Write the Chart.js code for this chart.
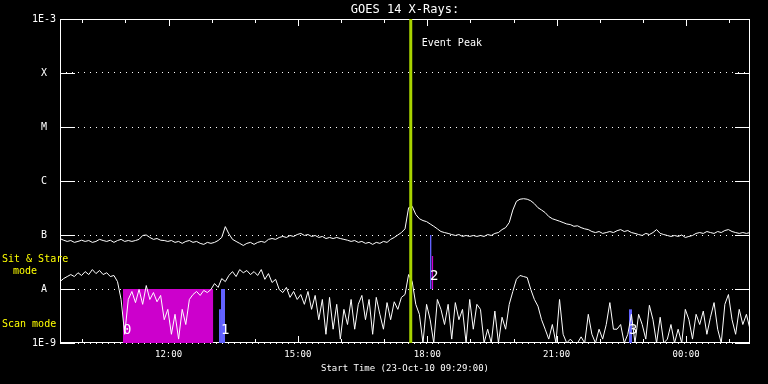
<!DOCTYPE html>
<html>
<head>
<meta charset="utf-8">
<title>GOES 14 X-Rays</title>
<script src="https://cdn.jsdelivr.net/npm/chart.js@4.4.1/dist/chart.umd.min.js"></script>
<style>
  html, body { margin: 0; padding: 0; background: #000; }
  #wrap { width: 768px; height: 384px; }
</style>
</head>
<body>
<div id="wrap"><canvas id="xrays" width="768" height="384"></canvas></div>
<script>
// GOES 14 flux, 23-Oct-10 09:29 -> 24-Oct-10 01:29, one sample every 5 minutes
const startHour = 9 + 29 / 60;
const sampleMinutes = 5;
const eventPeakHour = 17 + 37 / 60;

// long channel (1-8 A), nW/m^2
const longFlux = [
  86, 80, 76, 79, 73, 76, 80, 76, 79, 73, 76, 83, 79, 76, 80, 73, 79, 83, 76, 79,
  76, 79, 83, 98, 100, 90, 83, 86, 80, 79, 76,
  79, 73, 76, 70, 76, 79, 73, 76, 70, 67, 73, 70, 73, 79, 90, 143, 105, 83, 76, 70, 64, 70, 73, 67, 73, 76, 73,
  83, 86, 83, 90, 94, 90, 98, 94, 102, 107, 98, 102, 94, 98, 90, 94, 86, 90, 86, 90,
  86, 83, 80, 76, 79, 73, 76, 70, 73, 67, 73, 70, 76, 73, 83, 90, 100, 111, 130,
  320, 340, 240, 200, 185, 177, 160, 145, 130, 116, 111, 107, 102, 98, 102, 94, 98, 94, 98, 94, 98, 94, 102, 98, 107, 111,
  126, 137, 170, 290, 420, 460, 470, 460, 430, 380, 320, 290, 260, 220, 200, 190, 180, 170, 160, 156, 145, 148, 137, 130, 126, 116, 111,
  116, 107, 111, 116, 111, 120, 126, 116, 121, 111, 107, 102, 98, 107, 102, 111, 126, 107, 102, 98,
  94, 98, 94, 100, 90, 94, 98, 107, 111, 107, 116, 111, 107, 116, 111, 121, 126, 116, 111, 107, 111, 107, 111
];

// short channel (0.5-4 A), nW/m^2
const shortFlux = [
  13.7, 15.6, 17, 18.5, 17, 20, 17.8, 21, 18.5, 22.9, 19.3, 22, 18.5, 20, 17, 17.8, 13.7,
  6.4, 1.45, 6.4, 9, 5.6, 9.8, 5.2, 11.6, 6.4, 8.6, 5.8, 7.6, 2.7, 4.2, 1.45, 3.4, 1.18, 4.2, 2.2, 6.4, 7.9, 9, 7.6, 9.4, 8.6, 9.8,
  12.6, 10.7, 15.6, 13.7, 17.8, 21, 17, 22.9, 20, 22, 18.5, 21, 17.8, 22.9, 15.1, 19.3, 13.2, 15.1, 9.8, 8.6,
  10.7, 7, 9, 6.4, 7.9, 5.2, 9, 4.2, 7.6, 2.7, 6.4, 1.45, 7, 1.8, 5.2,
  1.18, 4.2, 2.2, 6.4, 1.8, 5.2, 7.6, 2.7, 6.4, 1.45, 7, 3.4, 1.8, 5.6, 2.7, 5.8, 4.2, 7, 7.9, 18.5,
  13.7, 5.2, 3.4, 1, 5.2, 2.7, 1, 6.4, 4.2, 2.2, 5.2, 1.18, 5.6, 2.7, 4.2, 1, 6.4, 1.8, 5.2,
  4.2, 1, 1.8, 1, 3.9, 1, 3, 1.8, 5.2, 9, 15.1, 17.8, 17, 16.3, 9.8, 6.4, 4.8, 2.7, 1.8, 1.18,
  2.2, 1, 6.4, 1.45, 1, 1.18, 1, 1, 1.3, 1, 3.4, 1.45, 1, 1.8, 1.18, 2.2, 5.6, 1.8,
  1.8, 2.2, 1, 1.45, 3.4, 1, 3.4, 2.2, 1.18, 5, 2.7, 1, 3, 1, 1.18, 2.2, 1, 1.8, 1, 4.2,
  2.7, 1.18, 3.4, 2.2, 3.9, 1.45, 3, 5.6, 1.8, 1, 5.2, 7.9, 2.7, 1.45, 4.2, 2.2, 3.4, 1.8
];

const decadeTicks = [1e-9, 1e-8, 1e-7, 1e-6, 1e-5, 1e-4, 1e-3];
const decadeLabels = ['1E-9', 'A', 'B', 'C', 'M', 'X', '1E-3'];
const hourTicks = [12, 15, 18, 21, 24];
const hourLabels = ['12:00', '15:00', '18:00', '21:00', '00:00'];

// instrument observation blocks (hours, flux band)
const obsStart = [10.944, 13.170, 13.216, 18.063, 18.100, 22.677];
const obsEnd   = [13.038, 13.216, 13.309, 18.100, 18.140, 22.747];
const obsLow   = [1e-9, 1e-9, 1e-9, 1e-8, 1e-8, 1e-9];
const obsHigh  = [1e-8, 4.2e-9, 1e-8, 1e-7, 4.1e-8, 4.2e-9];
const obsKind  = ['scan', 'stare', 'stare', 'stare', 'scan', 'stare'];
const obsNumbers = ['0', '1', '2', '3'];
const obsNumberStart = [10.944, 13.216, 18.063, 22.677];
const obsNumberBand = [1e-9, 1e-9, 1e-8, 1e-9];

const kindColor = { scan: '#cc00cc', stare: '#6262ff' };
const mono = 'DejaVu Sans Mono';

const hours = longFlux.map((_, i) => startHour + i * sampleMinutes / 60);
const toPoints = vals => vals.map((v, i) => ({ x: hours[i], y: v * 1e-9 }));

const obsSets = obsStart.map((s, i) => ({
  data: [{ x: s, y: obsHigh[i] }, { x: obsEnd[i], y: obsHigh[i] }],
  borderColor: 'rgba(0,0,0,0)',
  backgroundColor: kindColor[obsKind[i]],
  fill: { value: obsLow[i] },
  pointRadius: 0,
  order: 5
}));

// box, inner tick marks
const frame = {
  id: 'frame',
  beforeDatasetsDraw(chart) {
    const { ctx, chartArea: a, scales: { x, y } } = chart;
    ctx.save();
    ctx.strokeStyle = '#fff';
    ctx.lineWidth = 1;
    ctx.strokeRect(a.left + 0.5, a.top + 0.5, a.right - a.left - 1, a.bottom - a.top - 1);
    ctx.beginPath();
    decadeTicks.forEach(v => {
      const py = Math.round(y.getPixelForValue(v)) + 0.5;
      ctx.moveTo(a.left, py); ctx.lineTo(a.left + 15, py);
      ctx.moveTo(a.right - 15, py); ctx.lineTo(a.right, py);
    });
    for (let h = Math.ceil(x.min); h <= Math.floor(x.max); h++) {
      const px = Math.round(x.getPixelForValue(h)) + 0.5;
      const len = h % 3 === 0 ? 7 : 4;
      ctx.moveTo(px, a.top); ctx.lineTo(px, a.top + len);
      ctx.moveTo(px, a.bottom); ctx.lineTo(px, a.bottom - len);
    }
    ctx.stroke();
    ctx.restore();
  }
};

// text annotations
const notes = {
  id: 'notes',
  afterDatasetsDraw(chart) {
    const { ctx, chartArea: a, scales: { x, y } } = chart;
    ctx.save();
    ctx.textBaseline = 'middle';
    ctx.textAlign = 'left';

    ctx.fillStyle = '#fff';
    ctx.font = '10px "' + mono + '"';
    ctx.fillText('Event Peak', x.getPixelForValue(eventPeakHour) + 11, a.top + 24);

    ctx.font = '14px "' + mono + '"';
    obsNumbers.forEach((n, i) => {
      ctx.fillText(n, x.getPixelForValue(obsNumberStart[i]), y.getPixelForValue(obsNumberBand[i]) - 13);
    });

    ctx.fillStyle = '#ffff00';
    ctx.font = '10px "' + mono + '"';
    const a8 = y.getPixelForValue(1e-8);
    ctx.fillText('Sit & Stare', 2, a8 - 30);
    ctx.fillText('mode', 13, a8 - 18);
    ctx.fillText('Scan mode', 2, y.getPixelForValue(1e-9) - 19);
    ctx.restore();
  }
};

new Chart(document.getElementById('xrays'), {
  type: 'line',
  data: {
    datasets: [
      {
        data: [{ x: eventPeakHour, y: 1e-9 }, { x: eventPeakHour, y: 1e-3 }],
        borderColor: '#a8d400',
        borderWidth: 3,
        pointRadius: 0,
        order: 0
      },
      { data: toPoints(longFlux), borderColor: '#fff', borderWidth: 1, pointRadius: 0, order: 1 },
      { data: toPoints(shortFlux), borderColor: '#fff', borderWidth: 1, pointRadius: 0, order: 2 },
      ...obsSets
    ]
  },
  options: {
    responsive: false,
    animation: false,
    layout: { padding: { right: 18 } },
    plugins: {
      legend: { display: false },
      tooltip: { enabled: false },
      title: {
        display: true,
        fullSize: false,
        text: 'GOES 14 X-Rays:',
        color: '#fff',
        font: { family: mono, size: 12, weight: 'normal' },
        padding: { top: 2.3, bottom: 2.3 }
      }
    },
    scales: {
      x: {
        type: 'linear',
        min: startHour,
        max: startHour + 16,
        afterFit: s => { s.height = 41; },
        afterBuildTicks: s => { s.ticks = hourTicks.map(v => ({ value: v })); },
        grid: { display: false, drawTicks: false },
        border: { display: false },
        ticks: {
          autoSkip: false,
          maxRotation: 0,
          padding: 6.6,
          color: '#fff',
          font: { family: mono, size: 9 },
          callback: (v, i) => hourLabels[i]
        },
        title: {
          display: true,
          text: 'Start Time (23-Oct-10 09:29:00)',
          color: '#fff',
          font: { family: mono, size: 9 },
          padding: { top: 0, bottom: 9.6 }
        }
      },
      y: {
        type: 'logarithmic',
        min: 1e-9,
        max: 1e-3,
        afterFit: s => { s.width = 60; },
        afterBuildTicks: s => { s.ticks = decadeTicks.map(v => ({ value: v })); },
        grid: { color: '#fff', lineWidth: 1, drawTicks: false },
        border: { display: false, dash: [1, 5] },
        ticks: {
          autoSkip: false,
          crossAlign: 'center',
          padding: 4,
          color: '#fff',
          font: { family: mono, size: 10 },
          callback: (v, i) => decadeLabels[i]
        }
      }
    }
  },
  plugins: [frame, notes]
});
</script>
</body>
</html>
